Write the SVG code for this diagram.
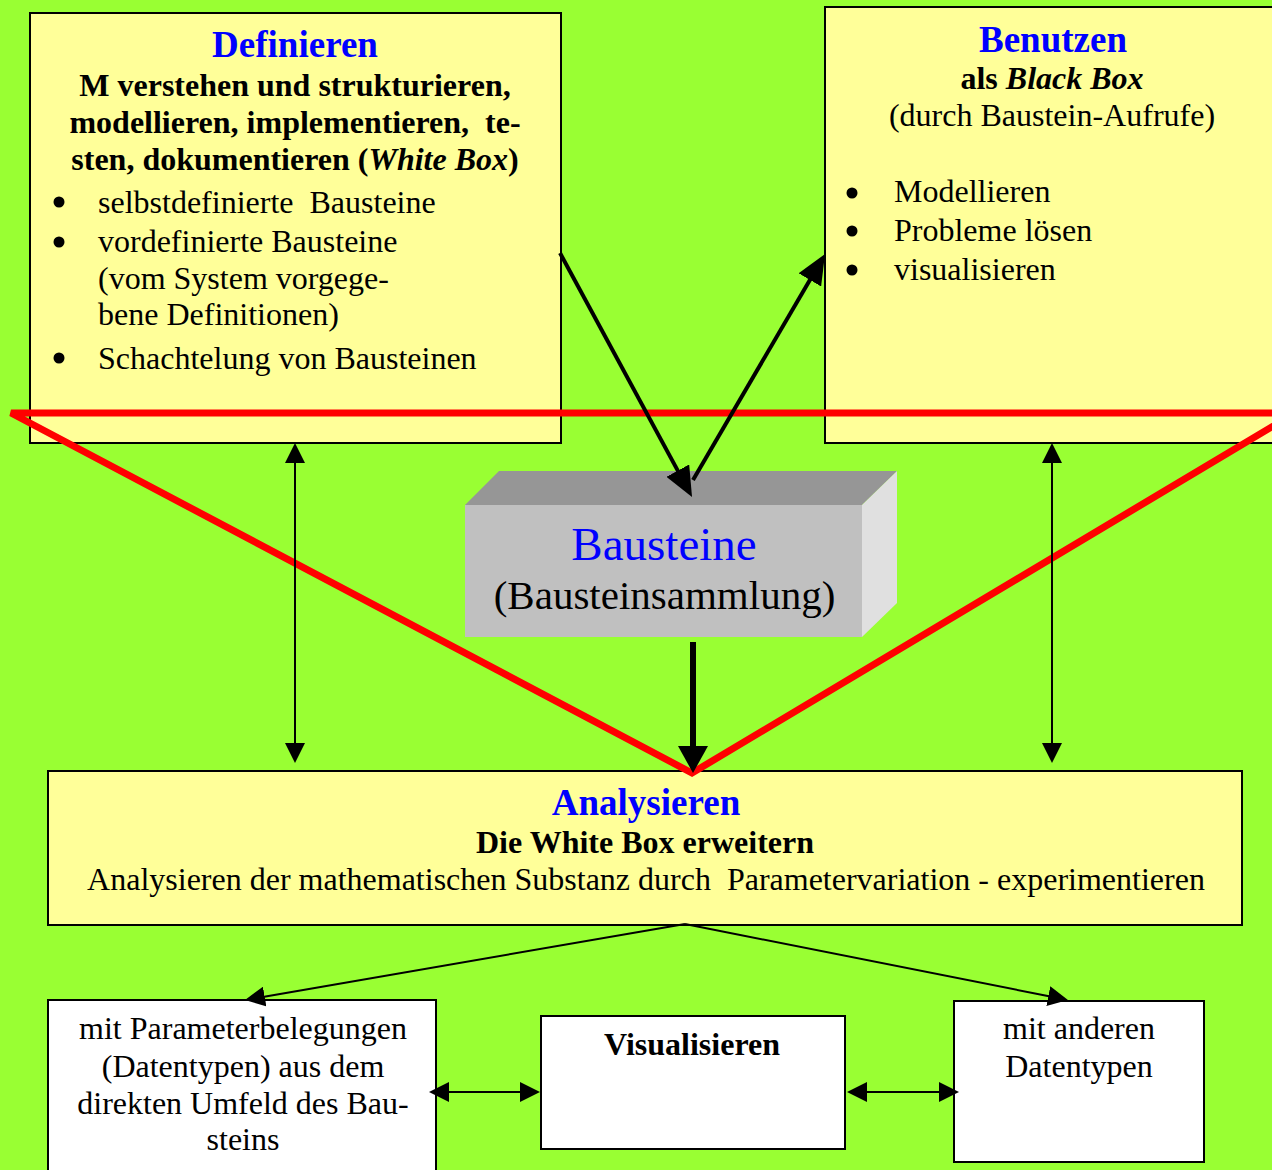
<svg xmlns="http://www.w3.org/2000/svg" width="1272" height="1170" viewBox="0 0 1272 1170">
<style>
text{font-family:"Liberation Serif","Times New Roman",serif;fill:#000}
.box{fill:#FFFF99;stroke:#000;stroke-width:2}
.wbox{fill:#FFFFFF;stroke:#000;stroke-width:2}
.title{font-size:37px;font-weight:bold;fill:#0000FF;text-anchor:middle}
.b{font-size:32px;font-weight:bold}
.n{font-size:32px}
.c{text-anchor:middle}
.thin{stroke:#000;stroke-width:2;fill:none}
.thick{stroke:#000;stroke-width:4;fill:none}
</style>
<defs>
<marker id="ahThick" markerUnits="userSpaceOnUse" viewBox="0 -13 30 26" markerWidth="30" markerHeight="26" refX="2" refY="0" orient="auto"><path d="M0,-13 L30,0 L0,13 z" fill="#000"/></marker>
<marker id="ahDown" markerUnits="userSpaceOnUse" viewBox="0 -15 27 30" markerWidth="27" markerHeight="30" refX="2" refY="0" orient="auto"><path d="M0,-15 L27,0 L0,15 z" fill="#000"/></marker>
<marker id="ahThin" markerUnits="userSpaceOnUse" viewBox="0 -10 20 20" markerWidth="20" markerHeight="20" refX="2" refY="0" orient="auto-start-reverse"><path d="M0,-10 L20,0 L0,10 z" fill="#000"/></marker>
</defs>
<rect x="0" y="0" width="1272" height="1170" fill="#99FF33"/>

<g id="definieren">
<rect class="box" x="30" y="13" width="531" height="430"/>
<text class="title" x="295" y="57">Definieren</text>
<text class="b c" x="295" y="96">M verstehen und strukturieren,</text>
<text class="b c" x="295" y="133" xml:space="preserve">modellieren, implementieren,  te-</text>
<text class="b c" x="295" y="170">sten, dokumentieren (<tspan font-style="italic">White Box</tspan>)</text>
<circle cx="59" cy="202" r="5.5"/>
<circle cx="59" cy="242" r="5.5"/>
<circle cx="59" cy="358" r="5.5"/>
<text class="n" x="98" y="213" xml:space="preserve">selbstdefinierte  Bausteine</text>
<text class="n" x="98" y="252">vordefinierte Bausteine</text>
<text class="n" x="98" y="289">(vom System vorgege-</text>
<text class="n" x="98" y="325">bene Definitionen)</text>
<text class="n" x="98" y="369">Schachtelung von Bausteinen</text>
</g>

<g id="benutzen">
<rect class="box" x="825" y="7" width="460" height="436"/>
<text class="title" x="1053" y="52">Benutzen</text>
<text class="b c" x="1052" y="89">als <tspan font-style="italic">Black Box</tspan></text>
<text class="n c" x="1052" y="126">(durch Baustein-Aufrufe)</text>
<circle cx="852" cy="193" r="5.5"/>
<circle cx="852" cy="231" r="5.5"/>
<circle cx="852" cy="270" r="5.5"/>
<text class="n" x="894" y="202">Modellieren</text>
<text class="n" x="894" y="241">Probleme lösen</text>
<text class="n" x="894" y="280">visualisieren</text>
</g>

<g id="bausteine">
<polygon points="465,505 499,471 897,471 862,505" fill="#969696"/>
<polygon points="862,505 897,471 897,603 862,637" fill="#E0E0E0"/>
<rect x="465" y="505" width="397" height="132" fill="#C0C0C0"/>
<text x="664" y="560" font-size="47" text-anchor="middle" style="fill:#0000FF">Bausteine</text>
<text x="664.5" y="609" font-size="41" text-anchor="middle">(Bausteinsammlung)</text>
</g>

<g id="analysieren">
<rect class="box" x="48" y="771" width="1194" height="154"/>
<text class="title" x="646" y="815">Analysieren</text>
<text class="b c" x="645" y="853">Die White Box erweitern</text>
<text class="n c" x="646" y="890" xml:space="preserve">Analysieren der mathematischen Substanz durch  Parametervariation - experimentieren</text>
</g>

<g id="parameter">
<rect class="wbox" x="48" y="1000" width="388" height="185"/>
<text class="n c" x="243" y="1039">mit Parameterbelegungen</text>
<text class="n c" x="243" y="1077">(Datentypen) aus dem</text>
<text class="n c" x="243" y="1114">direkten Umfeld des Bau-</text>
<text class="n c" x="243" y="1150">steins</text>
</g>

<g id="visualisieren">
<rect class="wbox" x="541" y="1016" width="304" height="133"/>
<text class="b c" x="692" y="1055">Visualisieren</text>
</g>

<g id="andere">
<rect class="wbox" x="954" y="1001" width="250" height="161"/>
<text class="n c" x="1079" y="1039">mit anderen</text>
<text class="n c" x="1079" y="1077">Datentypen</text>
</g>

<g id="red-lines">
<polyline points="1290,413 11,413 692,773 1290,416" fill="none" stroke="#FF0000" stroke-width="7"/>
</g>

<g id="connectors">
<line class="thick" x1="560" y1="253" x2="678.7" y2="472.4" marker-end="url(#ahThick)"/>
<line class="thick" x1="693" y1="480" x2="810.9" y2="278.2" marker-end="url(#ahThick)"/>
<line x1="693" y1="642" x2="693" y2="748" stroke="#000" stroke-width="6" marker-end="url(#ahDown)"/>
<line class="thin" x1="295" y1="461" x2="295" y2="745" marker-start="url(#ahThin)" marker-end="url(#ahThin)"/>
<line class="thin" x1="1052" y1="461" x2="1052" y2="745" marker-start="url(#ahThin)" marker-end="url(#ahThin)"/>
<line class="thin" x1="685" y1="924" x2="262.7" y2="996.9" marker-end="url(#ahThin)"/>
<line class="thin" x1="685" y1="924" x2="1050.3" y2="996.5" marker-end="url(#ahThin)"/>
<line class="thin" x1="447" y1="1092" x2="522" y2="1092" marker-start="url(#ahThin)" marker-end="url(#ahThin)"/>
<line class="thin" x1="865" y1="1092" x2="941" y2="1092" marker-start="url(#ahThin)" marker-end="url(#ahThin)"/>
</g>
</svg>
